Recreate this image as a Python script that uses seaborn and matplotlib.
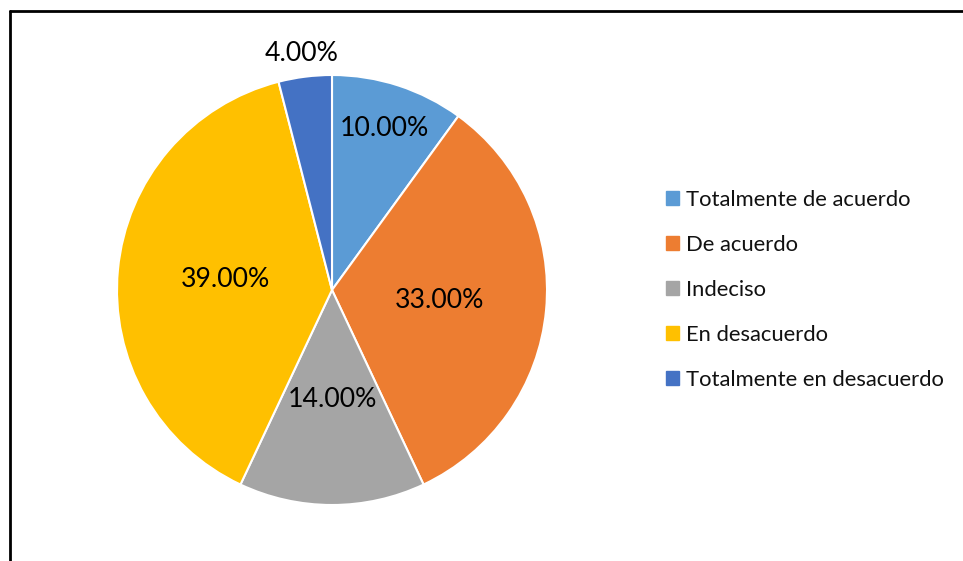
import matplotlib
matplotlib.use("Agg")
import matplotlib.pyplot as plt
import seaborn as sns
import numpy as np

categories = ["Totalmente de acuerdo", "De acuerdo", "Indeciso",
              "En desacuerdo", "Totalmente en desacuerdo"]
values = [10.0, 33.0, 14.0, 39.0, 4.0]
colors = ["#5B9BD5", "#ED7D31", "#A5A5A5", "#FFC000", "#4472C4"]
label_dist = [0.79, 0.50, 0.51, 0.50, 1.11]

sns.set_theme(style="white")
plt.rcParams["font.family"] = ["Lato", "DejaVu Sans"]

W, H = 963, 561
fig = plt.figure(figsize=(W / 100, H / 100), dpi=100)
fig.patch.set_facecolor("white")

cx, cy, r = 332, 290, 215
ax = fig.add_axes([(cx - r) / W, (H - cy - r) / H, 2 * r / W, 2 * r / H])
wedges, _ = ax.pie(values, colors=colors, startangle=90, counterclock=False,
                   radius=1.0, wedgeprops=dict(edgecolor="white", linewidth=1.5))
ax.set_xlim(-1, 1)
ax.set_ylim(-1, 1)
ax.set_aspect("equal")
ax.axis("off")

for w, v, d in zip(wedges, values, label_dist):
    ang = np.deg2rad((w.theta1 + w.theta2) / 2)
    ax.text(d * np.cos(ang), d * np.sin(ang), f"{v:.2f}%", ha="center",
            va="center", fontsize=19.2, color="black", clip_on=False)

handles = [plt.Rectangle((0, 0), 1, 1, color=c) for c in colors]
leg = fig.legend(handles, categories, loc="center left",
                 bbox_to_anchor=(666 / W, 1 - 290 / H), frameon=False,
                 fontsize=15.8, handlelength=0.6, handleheight=0.6,
                 handletextpad=0.3, labelspacing=1.14, borderpad=0,
                 borderaxespad=0)
for t in leg.get_texts():
    t.set_color("#111111")

# chart border (top and left edges visible)
fig.add_artist(plt.Line2D([10 / W, 10 / W], [0, 1 - 11 / H], color="black",
                          lw=2, transform=fig.transFigure))
fig.add_artist(plt.Line2D([10 / W, 1], [1 - 11 / H, 1 - 11 / H], color="black",
                          lw=2, transform=fig.transFigure))

fig.savefig("out.png", dpi=100, facecolor="white")
